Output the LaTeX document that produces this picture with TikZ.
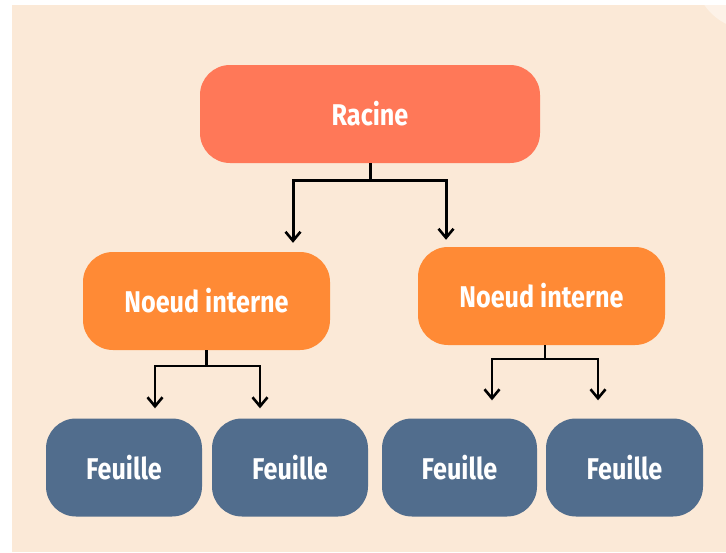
\documentclass[tikz,border=0pt]{standalone}
\usepackage{fontspec}
\setmainfont[FakeStretch=0.84]{Fira Sans}
\usetikzlibrary{arrows.meta}
\definecolor{cream}{HTML}{FBE9D7}
\definecolor{creamlight}{HTML}{FDF2E8}
\definecolor{coral}{HTML}{FF7858}
\definecolor{tangerine}{HTML}{FF8A35}
\definecolor{slate}{HTML}{516D8D}

\begin{document}
\begin{tikzpicture}[x=1pt,y=-1pt,
  box/.style={rounded corners=30pt,text=white,font=\fontsize{30}{34}\selectfont\bfseries,minimum height=98pt},
  link/.style={line width=3pt,-{Straight Barb[length=9pt,width=15pt,line width=2.6pt]}}]
 \useasboundingbox (0,0) rectangle (726,552);
 \fill[white] (0,0) rectangle (726,552);
 \fill[cream] (12,5) rectangle (726,552);
 \begin{scope}
  \clip (12,5) rectangle (726,552);
  \fill[creamlight] (752,-28) circle (58);
 \end{scope}
 \node[box,fill=coral,minimum width=340pt] (racine) at (370,114) {Racine};
 \node[box,fill=tangerine,minimum width=247pt] (nl) at (206.5,301) {Noeud interne};
 \node[box,fill=tangerine,minimum width=247pt] (nr) at (541.5,296) {Noeud interne};
 \node[box,fill=slate,minimum width=156pt] (f1) at (124,467.5) {Feuille};
 \node[box,fill=slate,minimum width=156pt] (f2) at (290,467.5) {Feuille};
 \node[box,fill=slate,minimum width=155pt] (f3) at (459.5,467.5) {Feuille};
 \node[box,fill=slate,minimum width=157pt] (f4) at (624.5,467.5) {Feuille};
 % racine -> noeuds
 \draw[link,shorten >=9pt] (racine.south) -- ++(0,17) -| ([xshift=86.5pt]nl.north);
 \draw[link,shorten >=7pt] (racine.south) -- ++(0,17) -| ([xshift=-95.5pt]nr.north);
 % noeuds -> feuilles
 \draw[link,line width=2.4pt,shorten >=10pt] (nl.south) -- ++(0,16) -| ([xshift=31pt]f1.north);
 \draw[link,line width=2.4pt,shorten >=10pt] (nl.south) -- ++(0,16) -| ([xshift=-30pt]f2.north);
 \draw[link,line width=2.4pt,shorten >=18pt] ([xshift=3.5pt]nr.south) -- ++(0,14) -| ([xshift=32.5pt]f3.north);
 \draw[link,line width=2.4pt,shorten >=18pt] ([xshift=3.5pt]nr.south) -- ++(0,14) -| ([xshift=-26.5pt]f4.north);
\end{tikzpicture}
\end{document}
